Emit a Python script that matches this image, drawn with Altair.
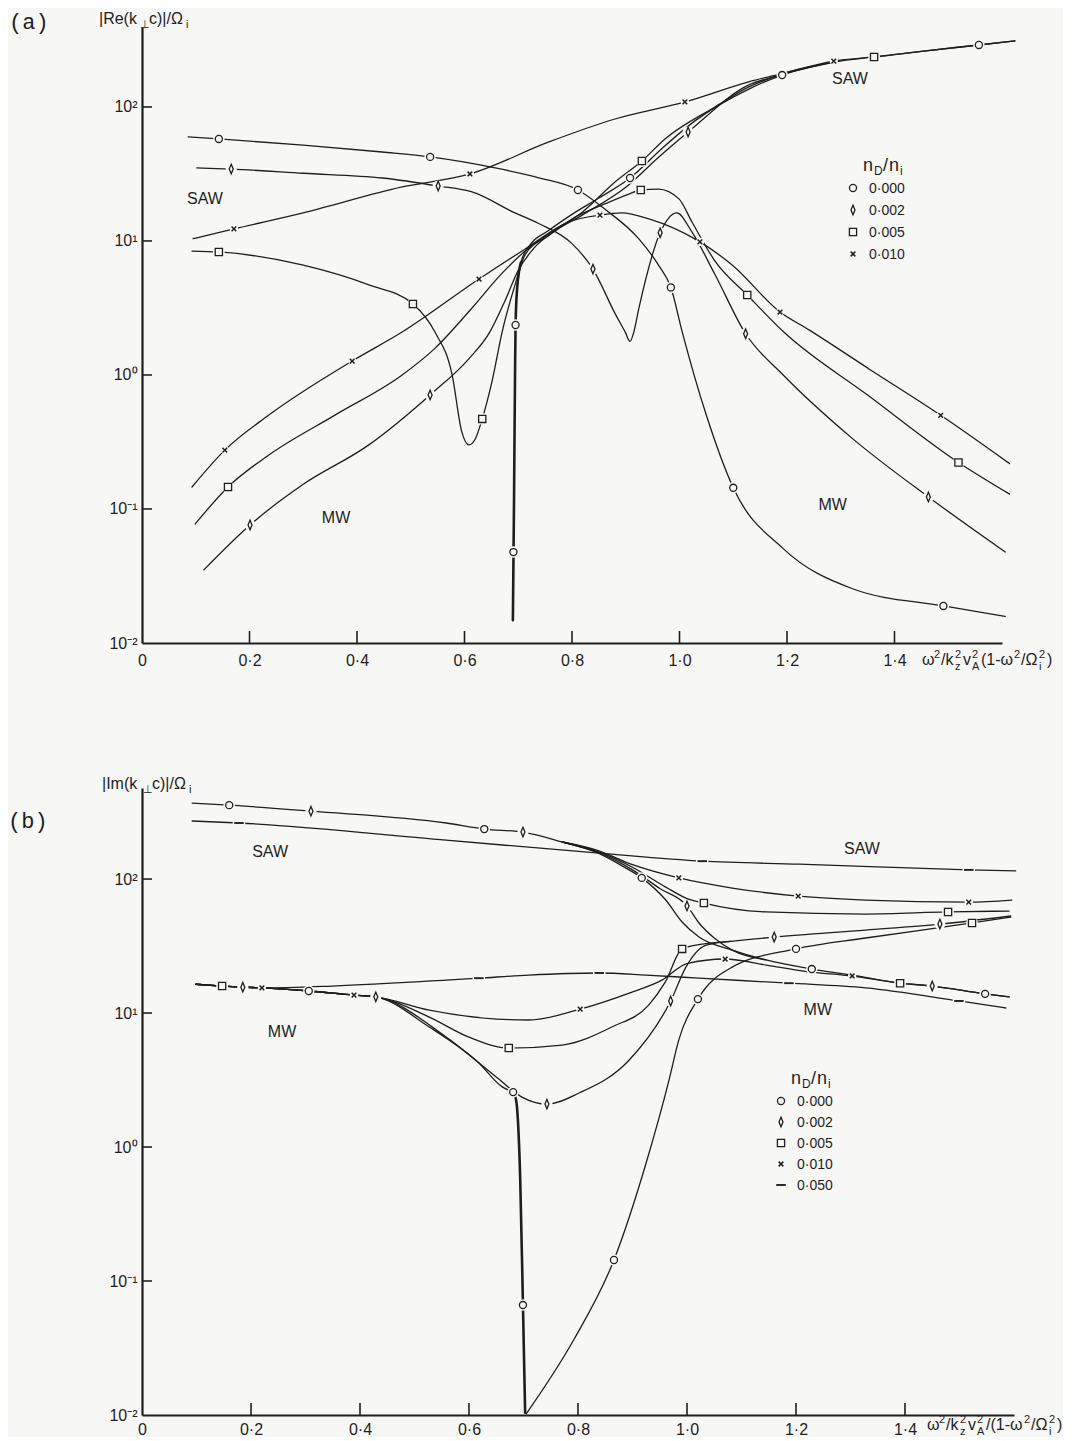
import altair as alt
import pandas as pd

INK = "#1e1e1e"
BG = "#f7f7f5"
SANS = "Liberation Sans"
MONO = "Liberation Mono"

# ======================= Panel (a): |Re(k_perp c)| / Omega_i =======================
A_C0_R1_X = [0.086, 0.143, 0.300, 0.447, 0.536, 0.657, 0.740, 0.811, 0.861, 0.924, 0.961, 0.984, 1.005, 1.050, 1.100, 1.193, 1.322, 1.491, 1.606]
A_C0_R1_Y = [59.7, 57.7, 51.9, 46.1, 42.4, 35.1, 29.5, 24.0, 17.3, 10.4, 6.6, 4.5, 2.1, 0.50, 0.144, 0.0506, 0.0254, 0.0189, 0.0158]
A_C0_R2_X = [0.690, 0.692, 0.694, 0.695, 0.698, 0.705]
A_C0_R2_Y = [0.0148, 0.1, 1.0, 2.36, 4.47, 6.92]
A_C0_R3_X = [0.698, 0.705, 0.720, 0.757, 0.800, 0.850, 0.908, 0.970, 1.030, 1.129, 1.191, 1.289, 1.362, 1.450, 1.557, 1.624]
A_C0_R3_Y = [4.47, 6.92, 9.12, 12.0, 15.8, 20.9, 29.5, 50.1, 79.4, 136, 173, 217, 236, 260, 290, 311]
A_C2_R1_X = [0.102, 0.166, 0.300, 0.447, 0.551, 0.614, 0.694, 0.738, 0.800, 0.839, 0.880, 0.899, 0.908, 0.915, 0.924, 0.964, 0.995, 1.023, 1.066, 1.123, 1.193, 1.322, 1.463, 1.606]
A_C2_R1_Y = [35.1, 34.4, 32.0, 29.5, 25.7, 23.2, 16.2, 13.5, 9.55, 6.17, 2.88, 2.09, 1.78, 2.09, 3.09, 11.5, 16.2, 11.7, 5.62, 2.03, 1.0, 0.335, 0.123, 0.0478]
A_C2_R2_X = [0.115, 0.201, 0.298, 0.422, 0.536, 0.608, 0.647, 0.675, 0.700, 0.730, 0.770, 0.819, 0.906, 0.960, 1.016, 1.129, 1.187, 1.289]
A_C2_R2_Y = [0.0351, 0.0760, 0.151, 0.301, 0.710, 1.32, 2.09, 3.55, 6.03, 8.91, 12.0, 15.6, 26.3, 41.7, 65.0, 146, 173, 217]
A_C5_R1_X = [0.093, 0.143, 0.298, 0.422, 0.504, 0.545, 0.577, 0.595, 0.608, 0.620, 0.633, 0.651, 0.670, 0.694, 0.713, 0.757, 0.800, 0.861, 0.906, 0.928, 0.961, 0.999, 1.023, 1.066, 1.126, 1.194, 1.350, 1.519, 1.614]
A_C5_R1_Y = [8.41, 8.28, 6.62, 4.70, 3.39, 2.09, 1.0, 0.376, 0.301, 0.333, 0.470, 0.887, 2.09, 4.70, 7.94, 11.0, 14.6, 18.9, 22.4, 24.0, 24.4, 20.6, 13.9, 7.08, 3.95, 2.09, 0.708, 0.222, 0.129]
A_C5_R2_X = [0.099, 0.160, 0.236, 0.359, 0.484, 0.545, 0.614, 0.670, 0.720, 0.760, 0.819, 0.880, 0.930, 0.973, 1.066, 1.129, 1.191, 1.289]
A_C5_R2_Y = [0.0773, 0.146, 0.253, 0.502, 1.0, 1.58, 3.16, 5.75, 8.91, 11.5, 16.4, 27.5, 39.5, 57.7, 100, 141, 176, 217]
A_C10_R1_X = [0.095, 0.171, 0.300, 0.484, 0.610, 0.757, 0.880, 1.010, 1.129, 1.187, 1.287, 1.362, 1.450, 1.557, 1.624]
A_C10_R1_Y = [10.4, 12.3, 16.2, 25.3, 31.6, 54.8, 81.3, 109, 154, 176, 220, 236, 260, 290, 311]
A_C10_R2_X = [0.093, 0.154, 0.236, 0.391, 0.484, 0.627, 0.713, 0.794, 0.852, 0.893, 0.943, 1.038, 1.098, 1.187, 1.241, 1.354, 1.486, 1.614]
A_C10_R2_Y = [0.146, 0.275, 0.502, 1.27, 2.09, 5.20, 8.71, 13.9, 15.6, 16.2, 14.6, 9.84, 6.62, 2.95, 2.17, 1.10, 0.500, 0.218]

A_CIRCLE_X = [0.143, 0.536, 0.811, 0.984, 1.100, 1.491, 0.691, 0.695, 0.908, 1.191, 1.557]
A_CIRCLE_Y = [57.7, 42.4, 24.0, 4.5, 0.144, 0.0189, 0.0477, 2.36, 29.5, 173, 290]
A_DIAMOND_X = [0.166, 0.551, 0.839, 0.964, 1.123, 1.463, 0.201, 0.536, 1.016]
A_DIAMOND_Y = [34.4, 25.7, 6.17, 11.5, 2.03, 0.123, 0.0760, 0.710, 65.0]
A_SQUARE_X = [0.143, 0.504, 0.633, 0.928, 1.126, 1.519, 0.160, 0.930, 1.362]
A_SQUARE_Y = [8.28, 3.39, 0.470, 24.0, 3.95, 0.222, 0.146, 39.5, 236]
A_CROSS_X = [0.171, 0.610, 1.010, 1.287, 0.154, 0.391, 0.627, 0.852, 1.038, 1.187, 1.486]
A_CROSS_Y = [12.3, 31.6, 109, 220, 0.275, 1.27, 5.20, 15.6, 9.84, 2.95, 0.500]

A_LABEL_TEXT = ["SAW", "SAW", "MW", "MW"]
A_LABEL_X = [0.117, 1.317, 0.361, 1.285]
A_LABEL_Y = [20.6, 162, 0.0857, 0.107]

A_LEGEND_TEXT = ["0·000", "0·002", "0·005", "0·010"]
A_LEGEND_KIND = ["circle", "diamond", "square", "cross"]

# ======================= Panel (b): |Im(k_perp c)| / Omega_i =======================
B_C0_R1_X = [0.092, 0.160, 0.310, 0.558, 0.628, 0.699, 0.771, 0.837, 0.880, 0.917, 0.961, 0.991, 1.022, 1.083, 1.145, 1.229, 1.303, 1.391, 1.450, 1.547, 1.591]
B_C0_R1_Y = [369, 356, 321, 262, 236, 224, 189, 156, 126, 102, 69.7, 47.8, 36.9, 29.5, 24.9, 21.3, 19.2, 16.7, 15.9, 13.9, 13.2]
B_C2_R1_X = [0.771, 0.837, 0.900, 0.950, 1.000, 1.022, 1.050, 1.083, 1.145]
B_C2_R1_Y = [189, 158, 117, 85.1, 63.0, 47.0, 36.3, 29.5, 24.9]
B_C5_R1_X = [0.771, 0.837, 0.899, 0.961, 0.998, 1.031, 1.145, 1.328, 1.479, 1.591]
B_C5_R1_Y = [189, 160, 123, 87.1, 72.1, 66.2, 56.8, 54.8, 56.8, 57.7]
B_C10_R1_X = [0.771, 0.837, 0.900, 0.985, 1.083, 1.204, 1.328, 1.517, 1.596]
B_C10_R1_Y = [189, 163, 128, 102, 85.7, 74.6, 69.7, 67.3, 69.7]
B_C50_R1_X = [0.092, 0.178, 0.558, 0.839, 1.028, 1.206, 1.517, 1.603]
B_C50_R1_Y = [271, 262, 195, 156, 136, 129, 117, 115]
B_C50_R2_X = [0.099, 0.147, 0.185, 0.220, 0.349, 0.558, 0.618, 0.710, 0.839, 0.925, 1.022, 1.187, 1.328, 1.499, 1.585]
B_C50_R2_Y = [16.4, 15.9, 15.6, 15.4, 15.9, 17.6, 18.2, 19.2, 19.9, 19.2, 18.2, 16.7, 15.4, 12.3, 10.9]
B_C10_R2_X = [0.099, 0.147, 0.185, 0.220, 0.306, 0.389, 0.429, 0.527, 0.650, 0.710, 0.804, 0.894, 0.954, 1.000, 1.070, 1.145, 1.220, 1.303, 1.391, 1.450, 1.547, 1.591]
B_C10_R2_Y = [16.4, 15.9, 15.6, 15.4, 14.6, 13.6, 13.2, 10.5, 9.02, 8.87, 10.7, 14.1, 17.6, 23.4, 25.3, 22.8, 20.4, 18.9, 16.7, 15.9, 13.9, 13.2]
B_C5_R2_X = [0.099, 0.147, 0.185, 0.220, 0.306, 0.389, 0.429, 0.527, 0.600, 0.673, 0.771, 0.862, 0.930, 0.960, 0.991, 1.028, 1.080, 1.160, 1.328, 1.464, 1.594]
B_C5_R2_Y = [16.4, 15.9, 15.6, 15.4, 14.6, 13.6, 13.2, 9.33, 6.61, 5.48, 5.77, 7.87, 11.5, 17.0, 30.1, 32.7, 34.3, 36.9, 41.6, 46.1, 53.0]
B_C2_R2_X = [0.099, 0.147, 0.185, 0.220, 0.306, 0.389, 0.429, 0.558, 0.650, 0.697, 0.743, 0.802, 0.894, 0.970, 0.998, 1.035, 1.080]
B_C2_R2_Y = [16.4, 15.9, 15.6, 15.4, 14.6, 13.6, 13.2, 6.62, 3.33, 2.36, 2.09, 2.53, 4.46, 12.3, 22.0, 32.1, 34.3]
B_C0_R2_X = [0.099, 0.147, 0.185, 0.220, 0.306, 0.389, 0.429, 0.527, 0.618, 0.661, 0.681]
B_C0_R2_Y = [16.4, 15.9, 15.6, 15.4, 14.6, 13.6, 13.2, 7.87, 4.24, 2.81, 2.57]
B_C0_R3_X = [0.681, 0.686, 0.688, 0.694, 0.699, 0.703]
B_C0_R3_Y = [2.57, 2.29, 1.99, 0.568, 0.0662, 0.0104]
B_C0_R4_X = [0.705, 0.793, 0.866, 0.925, 0.967, 0.985, 1.020, 1.083, 1.200, 1.328, 1.523, 1.594]
B_C0_R4_Y = [0.0102, 0.0369, 0.1435, 0.760, 3.16, 6.30, 12.7, 22.0, 30.1, 36.3, 47.0, 52.0]

B_CIRCLE_X = [0.160, 0.628, 0.917, 1.229, 1.547, 0.306, 0.681, 0.699, 0.866, 1.020, 1.200]
B_CIRCLE_Y = [356, 236, 102, 21.3, 13.9, 14.6, 2.57, 0.0662, 0.1435, 12.7, 30.1]
B_DIAMOND_X = [0.310, 0.699, 1.000, 1.450, 0.185, 0.429, 0.743, 0.970, 1.160, 1.464]
B_DIAMOND_Y = [321, 224, 63.0, 15.9, 15.6, 13.2, 2.09, 12.3, 36.9, 46.1]
B_SQUARE_X = [1.031, 1.479, 1.391, 0.147, 0.673, 0.991, 1.523]
B_SQUARE_Y = [66.2, 56.8, 16.7, 15.9, 5.48, 30.1, 47.0]
B_CROSS_X = [0.985, 1.204, 1.517, 0.220, 0.804, 1.070, 1.303, 0.389]
B_CROSS_Y = [102, 74.6, 67.3, 15.4, 10.7, 25.3, 18.9, 13.6]
B_DASH_X = [0.178, 1.028, 1.517, 0.618, 0.839, 1.187, 1.499]
B_DASH_Y = [262, 136, 117, 18.2, 19.9, 16.7, 12.3]

B_LABEL_TEXT = ["SAW", "SAW", "MW", "MW"]
B_LABEL_X = [0.235, 1.321, 0.257, 1.240]
B_LABEL_Y = [159, 167, 7.21, 10.5]

B_LEGEND_TEXT = ["0·000", "0·002", "0·005", "0·010", "0·050"]
B_LEGEND_KIND = ["circle", "diamond", "square", "cross", "dash"]

X_TICKS = [0.2, 0.4, 0.6, 0.8, 1.0, 1.2, 1.4]
X_LABELS = [0, 0.2, 0.4, 0.6, 0.8, 1.0, 1.2, 1.4]
Y_TICKS = [0.1, 1, 10, 100]
Y_LABELS = [0.01, 0.1, 1, 10, 100]

# ------------------------------- styles ---------------------------------
MARKERS = {
    "circle": dict(shape="circle", size=50, filled=False, strokeWidth=1.3),
    "diamond": dict(shape="M0,-1L0.42,0L0,1L-0.42,0Z", size=90, filled=False, strokeWidth=1.3),
    "square": dict(shape="square", size=52, filled=False, strokeWidth=1.3),
    "cross": dict(shape="M-1,-1L1,1M-1,1L1,-1", size=22, filled=False, strokeWidth=1.5),
    "dash": dict(shape="M-1,-0.2L1,-0.2L1,0.2L-1,0.2Z", size=90, filled=True, strokeWidth=0.5),
}
HALO = {"circle": 130, "diamond": 125, "square": 140, "cross": 70, "dash": 160}
THICK = {"c0_r2": 2.6, "b_c0_r3": 2.6}

ONE = pd.DataFrame({"k": [0]})


def paths_df(paths):
    rows = []
    for name, (xs, ys) in paths.items():
        for i, (x, y) in enumerate(zip(xs, ys)):
            rows.append({"path": name, "i": i, "x": x, "y": y, "w": THICK.get(name, 1.3)})
    return pd.DataFrame(rows)


def markers_df(marks):
    rows = []
    for kind, (xs, ys) in marks.items():
        for x, y in zip(xs, ys):
            rows.append({"kind": kind, "x": x, "y": y, "hs": HALO[kind]})
    return pd.DataFrame(rows)


def ptext(s, px, py, size, font=SANS, align="left", baseline="alphabetic"):
    return alt.Chart(ONE).mark_text(
        text=s, font=font, fontSize=size, align=align, baseline=baseline, color=INK
    ).encode(x=alt.value(px), y=alt.value(py))


def pmark(kind, px, py):
    m = MARKERS[kind]
    return alt.Chart(ONE).mark_point(
        shape=m["shape"], size=m["size"], filled=m["filled"], strokeWidth=m["strokeWidth"],
        color=INK, opacity=1,
    ).encode(x=alt.value(px), y=alt.value(py))


def segments(segs, x0, yb, main=16, small=11):
    """segs: list of (text, kind, advance) ; kind in main/sup/sub/stack"""
    out = []
    x = x0
    for txt, kind, adv in segs:
        if kind == "main":
            out.append(ptext(txt, x, yb, main))
        elif kind == "sup":
            out.append(ptext(txt, x, yb - 7, small))
        elif kind == "sub":
            out.append(ptext(txt, x, yb + 4, small))
        elif kind == "stack":
            out.append(ptext(txt[0], x, yb - 7, small))
            out.append(ptext(txt[1], x, yb + 5, small))
        x += adv
    return out


def panel(paths, marks, labels, legend_text, legend_kind, W, H, ymax, tag, ytitle,
          slash, label_pad, leg_x, leg_y0, leg_dy, tag_x, tag_y, ytitle_x, ytitle_y, xt_x, xt_y):
    xs = alt.Scale(domain=[0, 1.6], nice=False, zero=False)
    ys = alt.Scale(type="log", domain=[0.01, ymax], nice=False)
    xaxis = alt.Axis(values=X_LABELS, ticks=False, grid=False, domainColor=INK, domainWidth=2,
                     labelFont=SANS, labelFontSize=16, labelColor=INK, labelPadding=label_pad,
                     labelFlush=False, labelOverlap=False, title=None,
                     labelExpr="datum.value == 0 ? '0' : replace(format(datum.value, '.1f'), '.', '·')")
    yaxis = alt.Axis(values=Y_LABELS, ticks=False, grid=False, domainColor=INK, domainWidth=2.2,
                     labelFont=SANS, labelFontSize=16, labelColor=INK, labelPadding=5,
                     labelOverlap=False, title=None, labelFlush=False,
                     labelExpr="datum.value < 0.05 ? '10⁻²' : datum.value < 0.5 ? '10⁻¹' : "
                               "datum.value < 5 ? '10⁰' : datum.value < 50 ? '10¹' : '10²'")
    X = alt.X("x:Q", scale=xs, axis=xaxis)
    Y = alt.Y("y:Q", scale=ys, axis=yaxis)

    pdf = paths_df(paths)
    mdf = markers_df(marks)
    layers = []
    layers.append(
        alt.Chart(pdf).mark_line(color=INK, interpolate="monotone", strokeCap="round", strokeJoin="round").encode(
            x=X, y=Y, detail="path:N", order="i:Q",
            strokeWidth=alt.StrokeWidth("w:Q", scale=None, legend=None))
    )
    layers.append(
        alt.Chart(mdf).mark_point(filled=True, color=BG, opacity=1, shape="circle").encode(
            x=X, y=Y, size=alt.Size("hs:Q", scale=None, legend=None))
    )
    for kind, m in MARKERS.items():
        if kind not in marks:
            continue
        layers.append(
            alt.Chart(mdf).transform_filter(alt.datum.kind == kind).mark_point(
                shape=m["shape"], size=m["size"], filled=m["filled"], strokeWidth=m["strokeWidth"],
                color=INK, opacity=1).encode(x=X, y=Y)
        )
    # inward ticks
    layers.append(alt.Chart(pd.DataFrame({"x": X_TICKS})).mark_rule(color=INK, strokeWidth=1.6).encode(
        x=X, y=alt.value(H), y2=alt.value(H - 12)))
    layers.append(alt.Chart(pd.DataFrame({"y": Y_TICKS})).mark_rule(color=INK, strokeWidth=1.6).encode(
        y=Y, x=alt.value(0), x2=alt.value(10)))
    # region labels
    ldf = pd.DataFrame({"t": labels[0], "x": labels[1], "y": labels[2]})
    layers.append(alt.Chart(ldf).mark_text(font=SANS, fontSize=16, color=INK).encode(x=X, y=Y, text="t:N"))
    # legend
    layers += segments([("n", "main", 11), ("D", "sub", 9), ("/", "main", 6), ("n", "main", 11), ("i", "sub", 4)],
                       leg_x + 10, leg_y0 - 17, main=18, small=12)
    for k, (t, kd) in enumerate(zip(legend_text, legend_kind)):
        yy = leg_y0 + k * leg_dy
        layers.append(pmark(kd, leg_x, yy))
        layers.append(ptext(t, leg_x + 16, yy + 5, 14))
    # panel tag and y title
    layers.append(ptext(tag, tag_x, tag_y, 22, font=MONO, baseline="middle"))
    layers += segments([(ytitle, "main", 41), ("⊥", "sub", 9), ("c)|/Ω", "main", 37), ("i", "sub", 4)],
                       ytitle_x, ytitle_y)
    # x title
    mid = "/(1-ω" if slash else "(1-ω"
    layers += segments([("ω", "main", 12), ("2", "sup", 7), ("/k", "main", 14), ("2z", "stack", 8),
                        ("v", "main", 9), ("2A", "stack", 9), (mid, "main", 38 if slash else 33),
                        ("2", "sup", 7), ("/Ω", "main", 18), ("2i", "stack", 8), (")", "main", 6)],
                       xt_x, xt_y)
    return alt.layer(*layers).properties(width=W, height=H)


pa = panel(
    {"c0_r1": (A_C0_R1_X, A_C0_R1_Y), "c0_r2": (A_C0_R2_X, A_C0_R2_Y), "c0_r3": (A_C0_R3_X, A_C0_R3_Y),
     "c2_r1": (A_C2_R1_X, A_C2_R1_Y), "c2_r2": (A_C2_R2_X, A_C2_R2_Y),
     "c5_r1": (A_C5_R1_X, A_C5_R1_Y), "c5_r2": (A_C5_R2_X, A_C5_R2_Y),
     "c10_r1": (A_C10_R1_X, A_C10_R1_Y), "c10_r2": (A_C10_R2_X, A_C10_R2_Y)},
    {"circle": (A_CIRCLE_X, A_CIRCLE_Y), "diamond": (A_DIAMOND_X, A_DIAMOND_Y),
     "square": (A_SQUARE_X, A_SQUARE_Y), "cross": (A_CROSS_X, A_CROSS_Y)},
    (A_LABEL_TEXT, A_LABEL_X, A_LABEL_Y), A_LEGEND_TEXT, A_LEGEND_KIND,
    W=860, H=616, ymax=395, tag="(a)", ytitle="|Re(k", slash=False, label_pad=9,
    leg_x=711, leg_y0=161, leg_dy=22, tag_x=-133, tag_y=-5, ytitle_x=-43, ytitle_y=-3,
    xt_x=780, xt_y=638,
)

pb = panel(
    {"b_c0_r1": (B_C0_R1_X, B_C0_R1_Y), "b_c2_r1": (B_C2_R1_X, B_C2_R1_Y),
     "b_c5_r1": (B_C5_R1_X, B_C5_R1_Y), "b_c10_r1": (B_C10_R1_X, B_C10_R1_Y),
     "b_c50_r1": (B_C50_R1_X, B_C50_R1_Y), "b_c50_r2": (B_C50_R2_X, B_C50_R2_Y),
     "b_c10_r2": (B_C10_R2_X, B_C10_R2_Y), "b_c5_r2": (B_C5_R2_X, B_C5_R2_Y),
     "b_c2_r2": (B_C2_R2_X, B_C2_R2_Y), "b_c0_r2": (B_C0_R2_X, B_C0_R2_Y),
     "b_c0_r3": (B_C0_R3_X, B_C0_R3_Y), "b_c0_r4": (B_C0_R4_X, B_C0_R4_Y)},
    {"circle": (B_CIRCLE_X, B_CIRCLE_Y), "diamond": (B_DIAMOND_X, B_DIAMOND_Y),
     "square": (B_SQUARE_X, B_SQUARE_Y), "cross": (B_CROSS_X, B_CROSS_Y), "dash": (B_DASH_X, B_DASH_Y)},
    (B_LABEL_TEXT, B_LABEL_X, B_LABEL_Y), B_LEGEND_TEXT, B_LEGEND_KIND,
    W=872, H=627, ymax=478, tag="(b)", ytitle="|Im(k", slash=True, label_pad=6,
    leg_x=639, leg_y0=313, leg_dy=21, tag_x=-134, tag_y=33, ytitle_x=-40, ytitle_y=1,
    xt_x=785, xt_y=642,
)

chart = alt.vconcat(pa, pb, spacing=104).properties(
    padding={"left": 0, "top": 3, "right": 0, "bottom": 0}
).configure(background=BG).configure_view(stroke=None)

chart.save("out.html", embed_options={"renderer": "svg", "actions": False})
